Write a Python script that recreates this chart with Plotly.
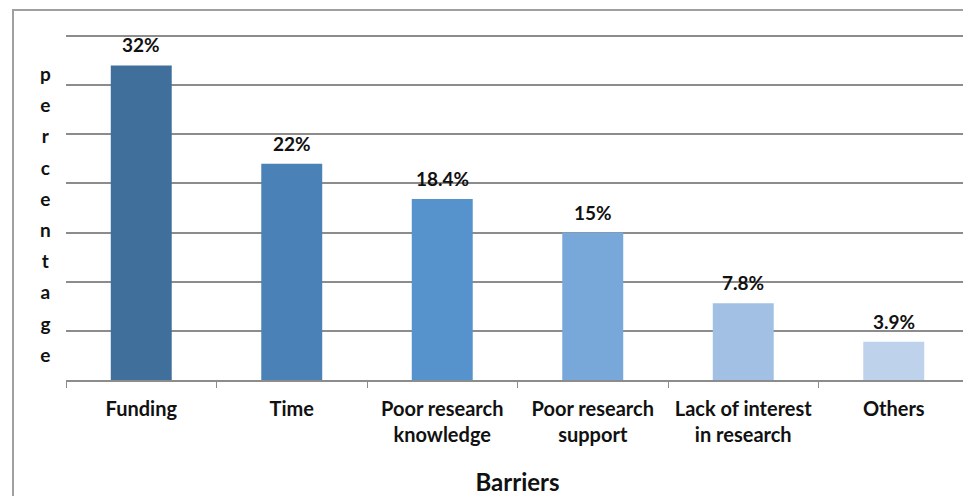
import plotly.graph_objects as go

categories = ["Funding", "Time", "Poor research<br>knowledge", "Poor research<br>support",
              "Lack of interest<br>in research", "Others"]
values = [32, 22, 18.4, 15, 7.8, 3.9]
labels = ["32%", "22%", "18.4%", "15%", "7.8%", "3.9%"]
colors = ["#416f9c", "#4a81b6", "#5692cb", "#78a7d9", "#a1c0e3", "#bfd2ec"]
y_letters = list("percentage")

# page body adds an 8px offset; work in figure pixel coordinates
OFF = 8
YMAX = 35.5
PXU = (380 - 36) / 35.0
W, H = 971 - OFF, 496 - OFF
L = 66 - OFF
R = W - (969 - OFF)
T = round(36 - (YMAX - 35) * PXU) - OFF
B = H - (380 - OFF)
pw = W - L - R
ph = H - T - B

FONT = "Lato"
TXT = "#111111"

fig = go.Figure(go.Bar(
    x=categories, y=values,
    marker=dict(color=colors, line=dict(width=0)),
    hoverinfo="skip",
))

for c, v, t in zip(categories, values, labels):
    fig.add_annotation(x=c, y=v, text=f"<b>{t}</b>", showarrow=False,
                       yanchor="bottom", yshift=7,
                       font=dict(family=FONT, size=19, color=TXT))

fig.update_layout(
    width=W, height=H,
    margin=dict(l=L, r=R, t=T, b=B, autoexpand=False),
    paper_bgcolor="white", plot_bgcolor="white",
    bargap=0.595,
    showlegend=False,
    font=dict(family=FONT, size=19, color=TXT),
    xaxis=dict(
        showgrid=False, showline=True, linecolor="#8c8c8c", linewidth=1.5,
        ticks="outside", tickson="boundaries", ticklen=6, tickcolor="#8c8c8c",
        tickfont=dict(family=FONT, size=20, color=TXT, weight="bold"),
        ticklabelstandoff=10,
        title=dict(text="<b>Barriers</b>", font=dict(family=FONT, size=24, color=TXT),
                   standoff=30),
        automargin=False,
    ),
    yaxis=dict(
        range=[0, YMAX], tickvals=[5, 10, 15, 20, 25, 30, 35], showticklabels=False,
        showgrid=True, gridcolor="#8c8c8c", gridwidth=1.5, zeroline=False, ticks="",
        automargin=False,
    ),
)

# vertical y-axis title
txt = "<br>".join(f"<span style='font-size:19px'><b>{c}</b></span>" for c in y_letters)
fig.add_annotation(
    text=txt, xref="paper", yref="paper",
    x=(45 - OFF - L) / pw, y=(H - B - (214 - OFF)) / ph,
    xanchor="center", yanchor="middle", showarrow=False,
    font=dict(family=FONT, size=24, color=TXT),
)

# outer frame
fig.add_shape(
    type="rect", xref="paper", yref="paper",
    x0=(13 - OFF - L) / pw, x1=(969.5 - OFF - L) / pw,
    y0=(H - B - 560) / ph, y1=(H - B - (10 - OFF)) / ph,
    line=dict(color="#a0a0a0", width=2), fillcolor="rgba(0,0,0,0)", layer="below",
)

fig.write_html("out.html")
